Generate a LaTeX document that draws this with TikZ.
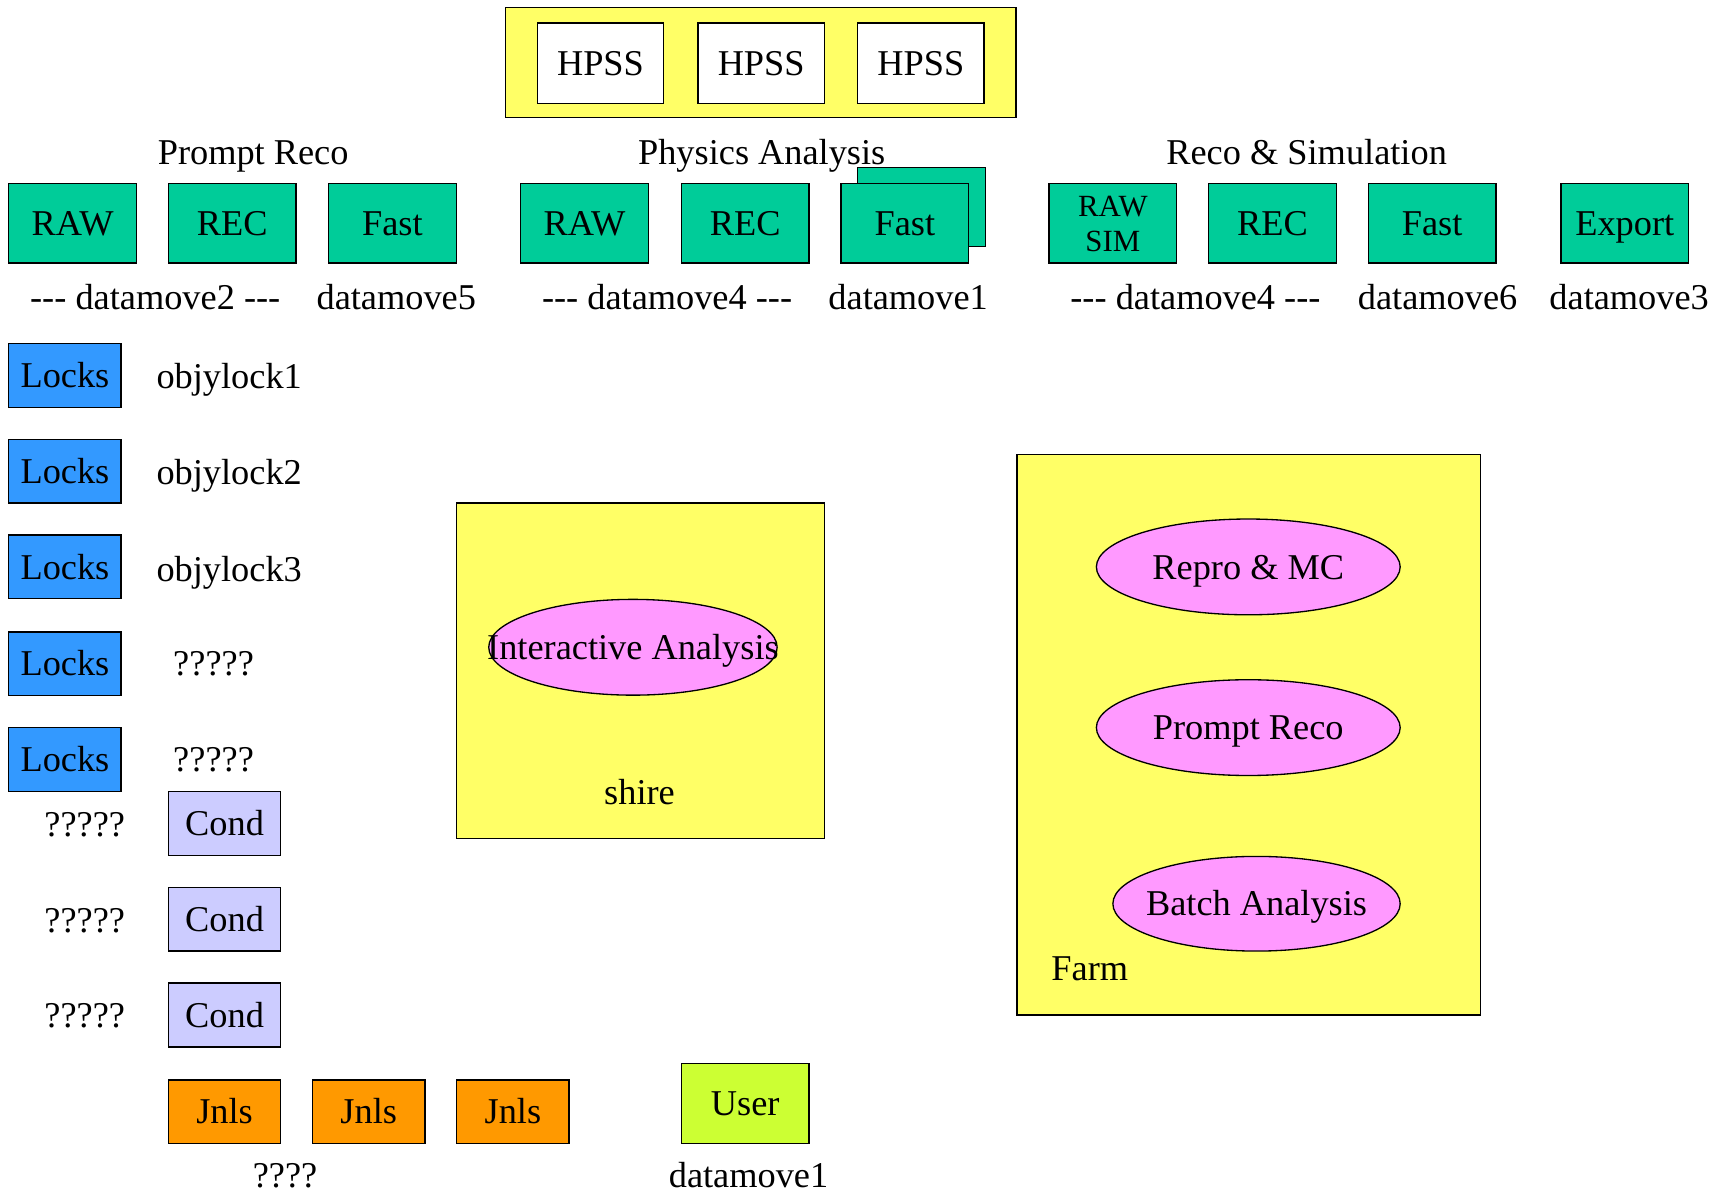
\documentclass[tikz,border=0pt]{standalone}
\usepackage{fontspec}
\setmainfont{Liberation Serif}[Ligatures=NoCommon]
\usetikzlibrary{shapes.geometric}
\newcommand\bigfont{\fontsize{33}{36}\selectfont}
\newcommand\smallfont{\fontsize{28}{31}\selectfont}
\newcommand\dashes{-{}-{}-}
\definecolor{dbgreen}{RGB}{0,204,153}
\definecolor{lockblue}{RGB}{51,153,255}
\definecolor{condlav}{RGB}{204,204,255}
\definecolor{jnlorange}{RGB}{255,153,0}
\definecolor{areayellow}{RGB}{255,255,102}
\definecolor{taskpink}{RGB}{255,153,255}
\definecolor{userlime}{RGB}{204,255,51}
\tikzset{
  lbl/.style={inner sep=0, font=\bigfont, text height=22pt, text depth=0pt},
  tile/.style={draw, line width=1.2pt, inner sep=0, font=\bigfont, anchor=center,
    text height=22pt, text depth=0pt},
  datafile/.style={tile, fill=dbgreen, minimum width=116pt, minimum height=72pt},
  tapebox/.style={tile, fill=white, minimum width=115pt, minimum height=73pt},
  lockbox/.style={tile, fill=lockblue, minimum width=102pt, minimum height=58pt},
  condbox/.style={tile, fill=condlav, minimum width=102pt, minimum height=58pt},
  jnlbox/.style={tile, fill=jnlorange, minimum width=102pt, minimum height=58pt},
  area/.style={tile, fill=areayellow},
  task/.style={draw, line width=1.2pt, ellipse, inner sep=0, fill=taskpink}
}
\begin{document}
\begin{tikzpicture}[x=1pt, y=-1pt]
\useasboundingbox (0,0) rectangle (1568,1085);

% tape store
\node[area, minimum width=464pt, minimum height=100pt] (store) at (691,57) {};
\node[tapebox] (hpssA) at (545.5,57.5) {HPSS};
\node[tapebox] (hpssB) at (691.5,57.5) {HPSS};
\node[tapebox] (hpssC) at (836.5,57.5) {HPSS};

% group titles
\node[lbl] (tPrompt) at (230,138) {Prompt Reco};
\node[lbl] (tPhys) at (692,138) {Physics Analysis};
\node[lbl] (tSim) at (1187,138) {Reco \& Simulation};

% prompt reco databases
\node[datafile] (prRaw) at (66,203) {RAW};
\node[datafile] (prRec) at (211,203) {REC};
\node[datafile] (prFast) at (356.5,203) {Fast};

% physics analysis databases
\node[datafile] (paRaw) at (531,203) {RAW};
\node[datafile] (paRec) at (677,203) {REC};
\node[datafile] (paFastBack) at (837,188) {};
\node[datafile] (paFast) at (822,203) {Fast};

% reco and simulation databases
\node[datafile, text height=, font=\smallfont, align=center] (rsRaw) at (1011,203) {RAW\\[1pt]SIM};
\node[datafile] (rsRec) at (1156,203) {REC};
\node[datafile] (rsFast) at (1301,203) {Fast};
\node[datafile] (rsExport) at (1476,203) {Export};

% data movers
\node[lbl] (dm2) at (141,270) {\dashes{} datamove2 \dashes};
\node[lbl] (dm5) at (360,270) {datamove5};
\node[lbl] (dm4a) at (606,270) {\dashes{} datamove4 \dashes};
\node[lbl] (dm1a) at (825,270) {datamove1};
\node[lbl] (dm4b) at (1086,270) {\dashes{} datamove4 \dashes};
\node[lbl] (dm6) at (1306,270) {datamove6};
\node[lbl] (dm3) at (1480,270) {datamove3};

% lock servers
\node[lockbox] (lockA) at (59,341) {Locks};
\node[lockbox] (lockB) at (59,428) {Locks};
\node[lockbox] (lockC) at (59,515) {Locks};
\node[lockbox] (lockD) at (59,603) {Locks};
\node[lockbox] (lockE) at (59,690) {Locks};
\node[lbl, anchor=west] (olA) at (142,342) {objylock1};
\node[lbl, anchor=west] (olB) at (142,429) {objylock2};
\node[lbl, anchor=west] (olC) at (142,517) {objylock3};
\node[lbl] (olD) at (194,603) {?????};
\node[lbl] (olE) at (194,690) {?????};

% conditions
\node[condbox] (condA) at (204,748) {Cond};
\node[condbox] (condB) at (204,835) {Cond};
\node[condbox] (condC) at (204,922) {Cond};
\node[lbl] (cqA) at (77,749) {?????};
\node[lbl] (cqB) at (77,836) {?????};
\node[lbl] (cqC) at (77,922) {?????};

% journals
\node[jnlbox] (jnlA) at (204,1010) {Jnls};
\node[jnlbox] (jnlB) at (335,1010) {Jnls};
\node[jnlbox] (jnlC) at (466,1010) {Jnls};
\node[lbl] (jq) at (259,1068) {????};

% user database
\node[tile, fill=userlime, minimum width=116pt, minimum height=73pt] (user) at (677,1002.5) {User};
\node[lbl] (dm1b) at (680,1068) {datamove1};

% interactive machine
\node[area, minimum width=334pt, minimum height=305pt] (shire) at (582,609.5) {};
\node[task, minimum width=262pt, minimum height=87pt] (inter) at (575,588) {};
\node[lbl] (interText) at (575,588) {Interactive Analysis};
\node[lbl] (shireLbl) at (581,720) {shire};

% farm
\node[area, minimum width=421pt, minimum height=509pt] (farm) at (1134.5,667.5) {};
\node[task, minimum width=276pt, minimum height=87pt] (repro) at (1134,515) {};
\node[lbl] (reproText) at (1134,515) {Repro \& MC};
\node[task, minimum width=276pt, minimum height=87pt] (prompt) at (1134,661) {};
\node[lbl] (promptText) at (1134,661) {Prompt Reco};
\node[task, minimum width=261pt, minimum height=86pt] (batch) at (1141.5,821) {};
\node[lbl] (batchText) at (1141.5,821) {Batch Analysis};
\node[lbl] (farmLbl) at (990,880) {Farm};
\end{tikzpicture}
\end{document}
